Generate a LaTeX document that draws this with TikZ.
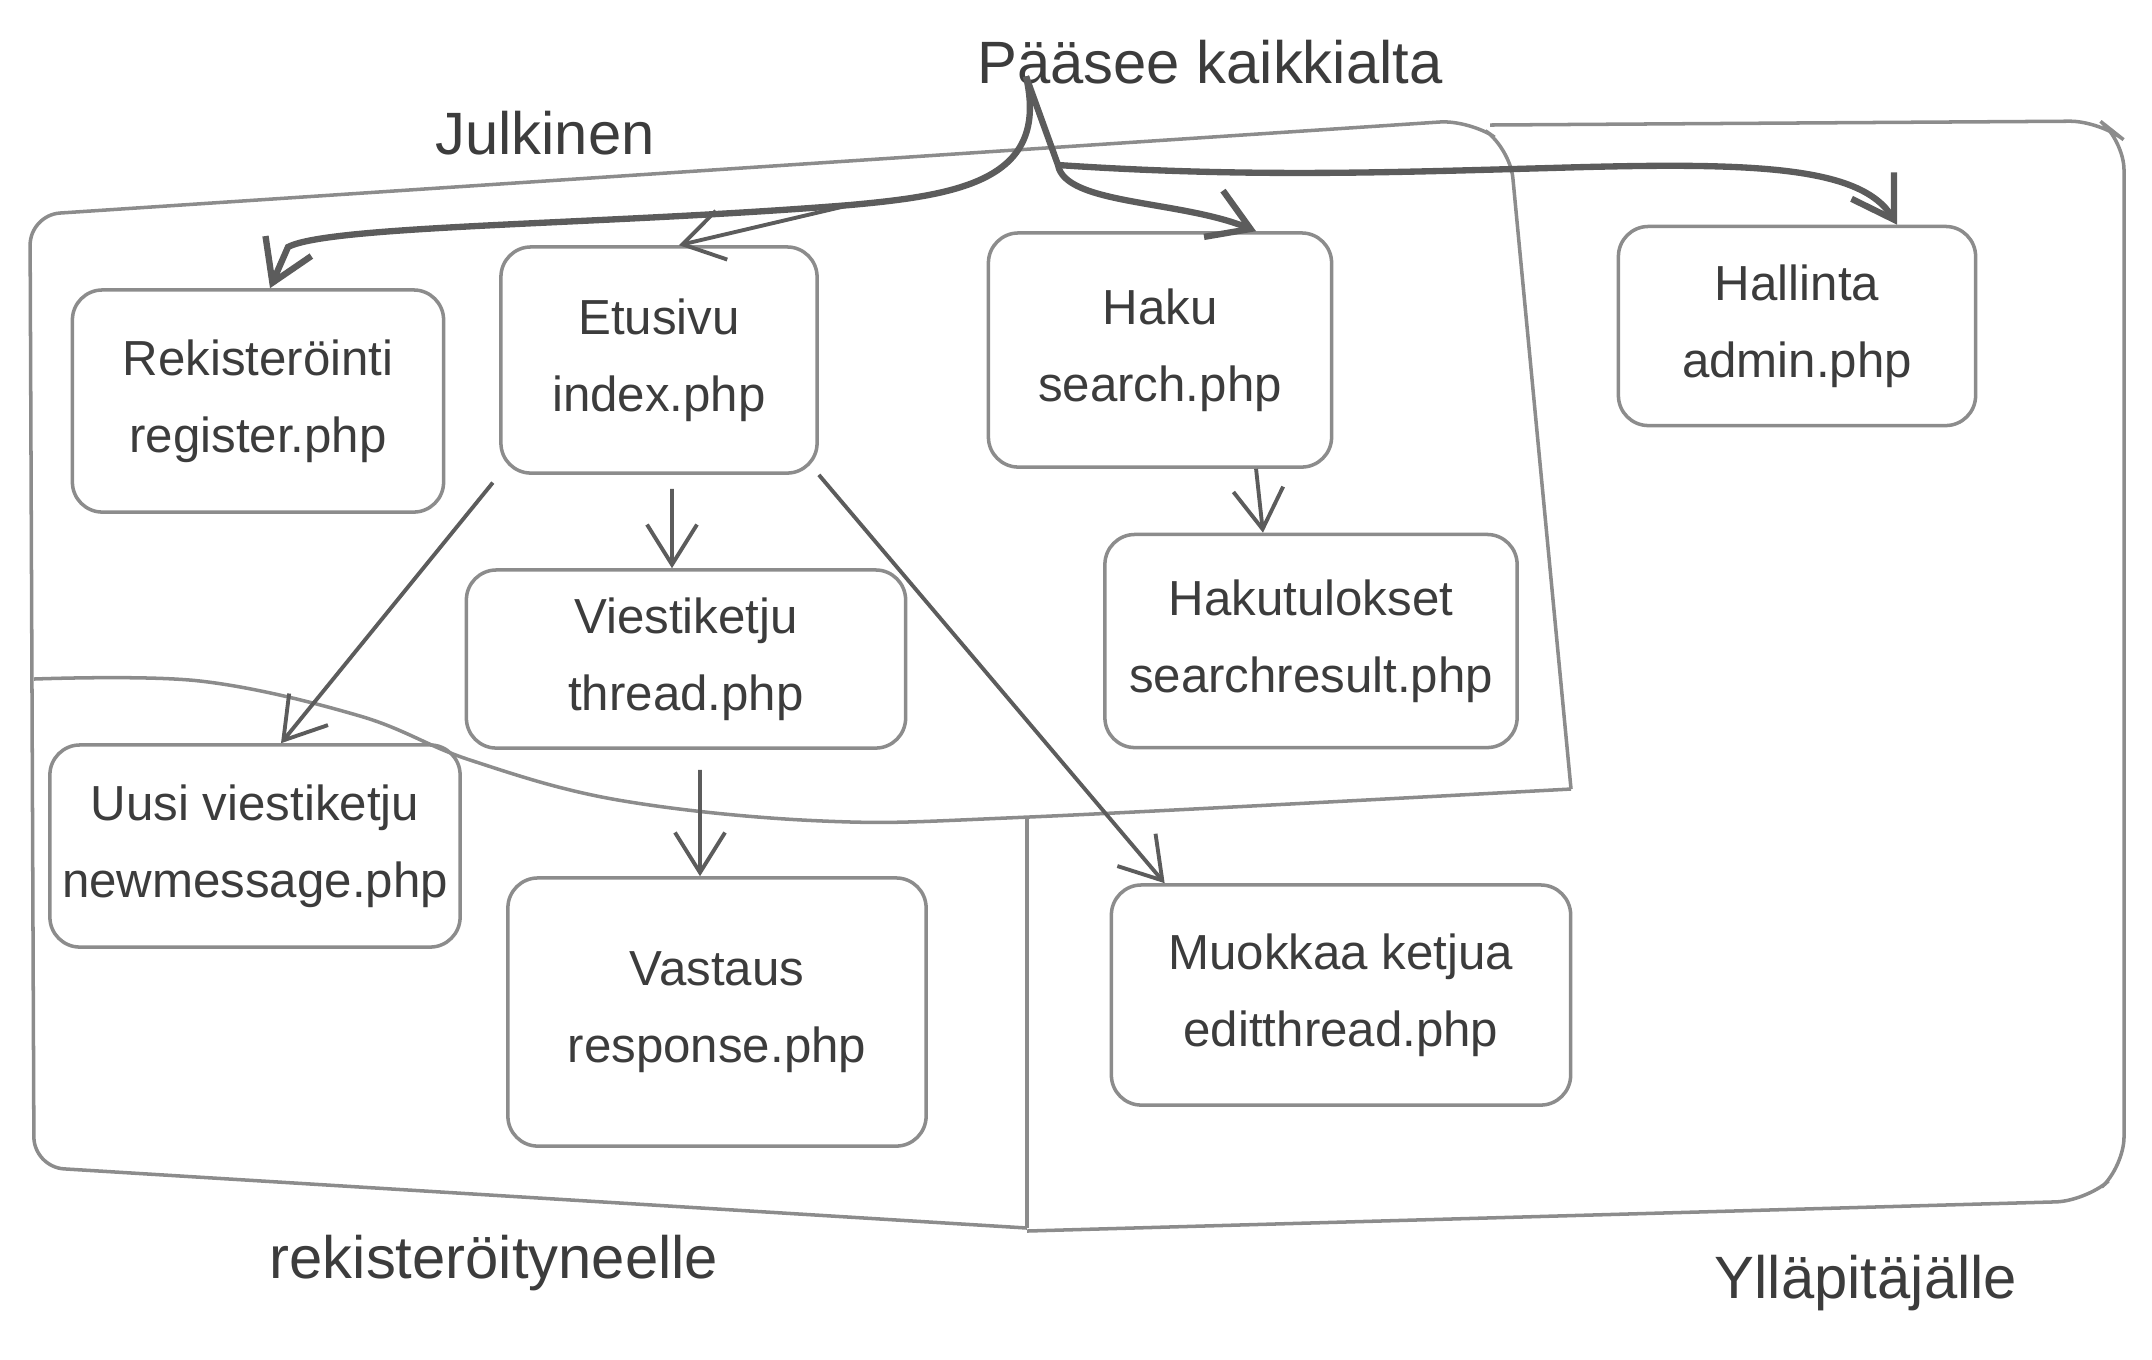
\documentclass[tikz,border=0pt]{standalone}
\usepackage{fontspec}
\setmainfont{Liberation Sans}
\usetikzlibrary{arrows.meta}
\definecolor{pencil}{HTML}{8C8C8C}
\definecolor{lead}{HTML}{5C5C5C}
\definecolor{ink}{HTML}{3C3C3C}
\begin{document}
\begin{tikzpicture}[x=0.01cm, y=-0.01cm,
  pbox/.style={draw=pencil, line width=1pt, rounded corners=0.3cm, text=ink, align=center,
    font=\fontsize{14}{22}\selectfont, inner sep=0pt},
  region/.style={draw=pencil, line width=1pt, rounded corners=0.3cm},
  conn/.style={draw=lead, line width=1.1pt, -{Straight Barb[length=4mm,width=5mm]}},
  mainarrow/.style={draw=lead, line width=1.8pt, -{Straight Barb[length=4mm,width=5mm]}},
  lbl/.style={text=ink, font=\fontsize{17}{20}\selectfont}]
\useasboundingbox (0,0) rectangle (2152,1359);

% regions
\draw[region] (1571,789) -- (1510,148) -- (1470,120) -- (30,215) -- (34,1167) -- (1027,1228);
\draw[region] (1027,817) -- (1027,1228);
\draw[pencil, line width=1pt] plot[smooth, tension=0.6] coordinates {(34,679) (200,681) (360,716) (470,760) (618,800) (823,821) (1029,817) (1571,789)};
\draw[region] (1490,125) -- (2100,121) -- (2124,140) -- (2124,1167) -- (2086,1201) -- (1027,1231);

% labels
\node[lbl] (top) at (1210,62) {Pääsee kaikkialta};
\node[lbl] (pub) at (545,133) {Julkinen};
\node[lbl] (reglbl) at (494,1263) {rekisteröityneelle};
\node[lbl] (admlbl) at (1866,1283) {Ylläpitäjälle};

% pages
\node[pbox, minimum width=3.71cm, minimum height=2.22cm] (reg) at (258,401) {Rekisteröinti\\register.php};
\node[pbox, minimum width=3.16cm, minimum height=2.26cm] (idx) at (659,360) {Etusivu\\index.php};
\node[pbox, minimum width=3.43cm, minimum height=2.34cm] (srch) at (1160,350) {Haku\\search.php};
\node[pbox, minimum width=3.57cm, minimum height=1.99cm] (adm) at (1797,326) {Hallinta\\admin.php};
\node[pbox, minimum width=4.39cm, minimum height=1.78cm] (thr) at (686,659) {Viestiketju\\thread.php};
\node[pbox, minimum width=4.12cm, minimum height=2.13cm] (sres) at (1311,641) {Hakutulokset\\searchresult.php};
\node[pbox, minimum width=4.10cm, minimum height=2.02cm] (newm) at (255,846) {Uusi viestiketju\\newmessage.php};
\node[pbox, minimum width=4.18cm, minimum height=2.68cm] (resp) at (717,1012) {Vastaus\\response.php};
\node[pbox, minimum width=4.59cm, minimum height=2.20cm] (edt) at (1341,995) {Muokkaa ketjua\\editthread.php};

% entry arrows
\coordinate (s) at ([xshift=0.61cm, yshift=0.2cm]top.south west);
\coordinate (b1) at (850,205);
\coordinate (b2) at (1058,165);
\draw[mainarrow] (s) .. controls (1050,180) and (960,195) .. (b1)
  .. controls (600,225) and (330,225) .. (288,247) -- ([xshift=0.12cm]reg.north);
\draw[conn] (b1) -- ([xshift=0.2cm]idx.north);
\draw[mainarrow] (s) -- (b2) .. controls (1065,205) and (1180,200) .. ([xshift=0.96cm]srch.north);
\draw[mainarrow] (b2) .. controls (1250,178) and (1400,172) .. (1550,168)
  .. controls (1750,162) and (1860,165) .. ([xshift=1cm]adm.north);

% internal arrows
\draw[conn, shorten <=0.14cm] ([xshift=0.13cm]idx.south) -- ([xshift=-0.14cm]thr.north);
\draw[conn, shorten <=0.1cm] (idx.south west) -- ([xshift=0.26cm]newm.north);
\draw[conn] (idx.south east) -- ([xshift=0.55cm]edt.north west);
\draw[conn] ([xshift=0.96cm]srch.south) -- ([xshift=-0.48cm]sres.north);
\draw[conn, shorten <=0.2cm] ([xshift=0.14cm]thr.south) -- ([xshift=-0.17cm]resp.north);
\end{tikzpicture}
\end{document}
